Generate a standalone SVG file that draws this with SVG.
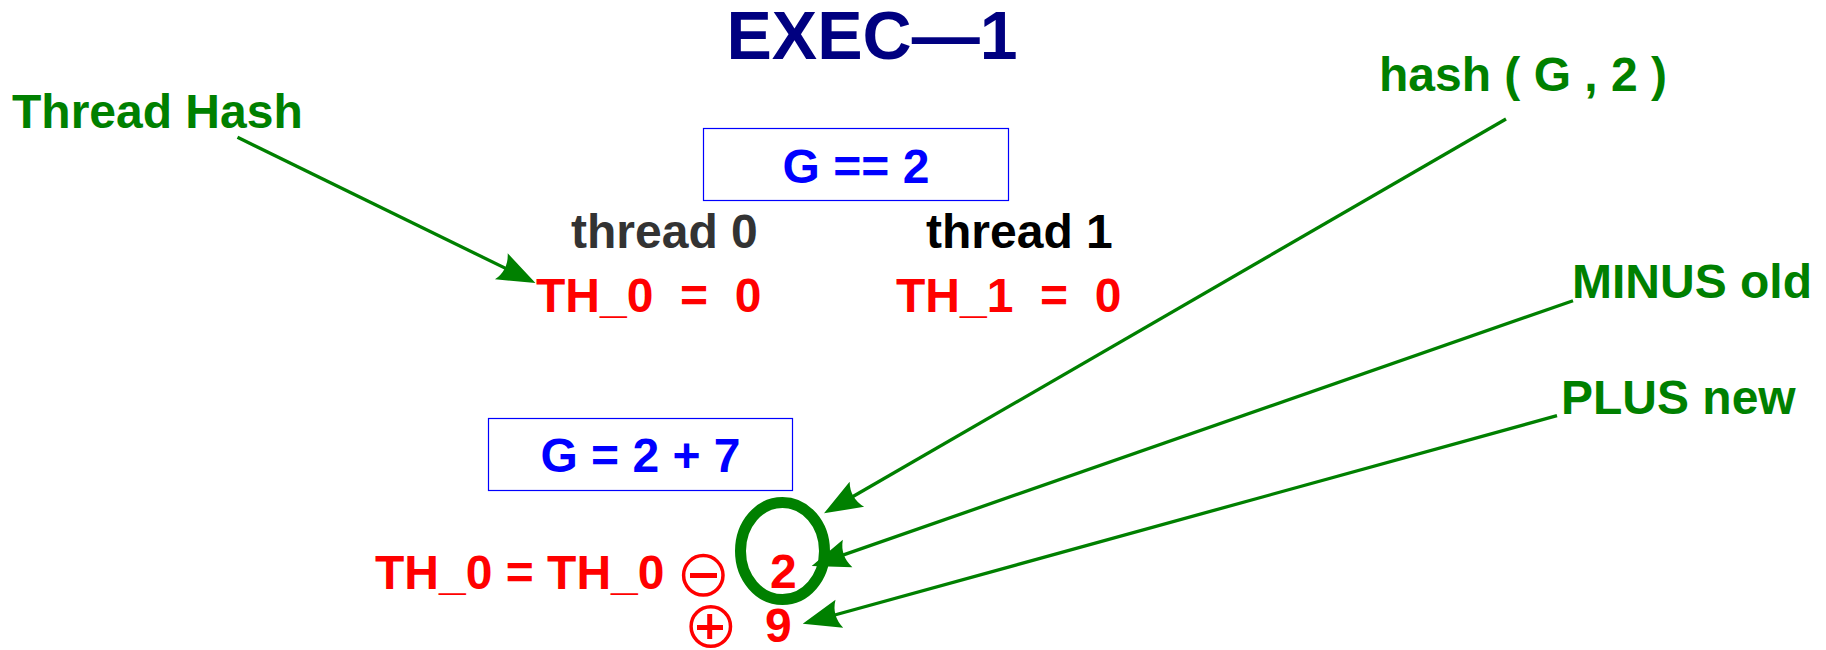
<svg xmlns="http://www.w3.org/2000/svg" width="1826" height="650" viewBox="0 0 1826 650">
  <style>
    text { font-family: "Liberation Sans", Arial, sans-serif; font-weight: bold; font-size: 48px; }
    .title { font-size: 68px; fill: #000080; }
    .note { fill: #008000; }
    .var { fill: #ff0000; }
    .cond { fill: #0000ff; }
    .box { fill: none; stroke: #0000ff; stroke-width: 1.2; }
    .link { fill: none; stroke: #008000; stroke-width: 3.3; marker-end: url(#head); }
    .op { fill: none; stroke: #ff0000; stroke-width: 3.5; }
    .opbar { stroke: #ff0000; stroke-width: 5; }
  </style>
  <defs>
    <!-- concave-backed arrowhead; its tip lies 20px beyond the line end -->
    <marker id="head" markerUnits="userSpaceOnUse" viewBox="-20 -16 42 32" refX="0" refY="0" markerWidth="42" markerHeight="32" orient="auto" overflow="visible">
      <path d="M20,0 L-18,-14.5 Q-10,0 -18,14.5 Z" fill="#008000"/>
    </marker>
  </defs>

  <rect width="1826" height="650" fill="#ffffff"/>

  <g id="title">
    <text class="title" x="872" y="59" text-anchor="middle">EXEC—1</text>
  </g>

  <g id="thread-hash-label">
    <text class="note" x="12" y="128">Thread Hash</text>
  </g>
  <g id="hash-label">
    <text class="note" x="1379" y="91">hash ( G , 2 )</text>
  </g>
  <g id="minus-label">
    <text class="note" x="1572" y="298">MINUS old</text>
  </g>
  <g id="plus-label">
    <text class="note" x="1561" y="414">PLUS new</text>
  </g>

  <g id="cond-initial">
    <rect class="box" x="703.5" y="128.5" width="305" height="72"/>
    <text class="cond" x="856" y="183" text-anchor="middle">G == 2</text>
  </g>

  <g id="thread0">
    <text x="571" y="248" fill="#333333">thread 0</text>
    <text class="var" x="536" y="312" xml:space="preserve">TH_0  =  0</text>
  </g>

  <g id="thread1">
    <text x="926" y="248" fill="#000000">thread 1</text>
    <text class="var" x="896" y="312" xml:space="preserve">TH_1  =  0</text>
  </g>

  <g id="cond-update">
    <rect class="box" x="488.5" y="418.5" width="304" height="72"/>
    <text class="cond" x="640.5" y="472" text-anchor="middle">G = 2 + 7</text>
  </g>

  <g id="update-expr">
    <text class="var" x="375" y="589">TH_0 = TH_0</text>
    <circle class="op" cx="703.3" cy="575.3" r="19.7"/>
    <line class="opbar" x1="690" y1="575.5" x2="717" y2="575.5"/>
    <text class="var" x="770" y="588">2</text>
    <circle class="op" cx="710.8" cy="626.5" r="19.7"/>
    <line class="opbar" x1="697" y1="627.5" x2="723" y2="627.5"/>
    <line class="opbar" x1="709.7" y1="614" x2="709.7" y2="639"/>
    <text class="var" x="765" y="642">9</text>
  </g>

  <g id="highlight">
    <ellipse cx="782.5" cy="551" rx="42" ry="48.5" fill="none" stroke="#008000" stroke-width="11"/>
  </g>

  <g id="connectors">
    <!-- each line stops 20px short of its arrow tip -->
    <line class="link" x1="237.5" y1="137.3" x2="517.5" y2="274.2"/>
    <line class="link" x1="1506" y1="119" x2="841.3" y2="503.3"/>
    <line class="link" x1="1573" y1="300.7" x2="830.6" y2="559.4"/>
    <line class="link" x1="1557" y1="415.7" x2="822" y2="618.5"/>
  </g>
</svg>
